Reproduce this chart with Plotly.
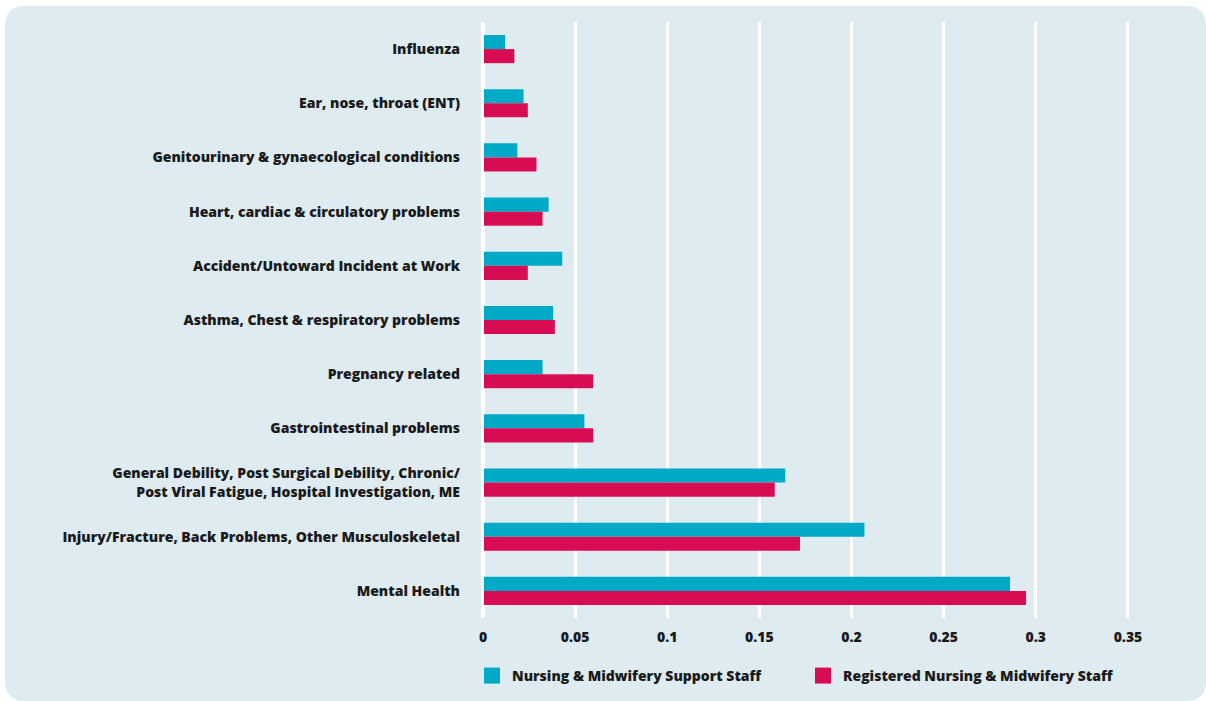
import plotly.graph_objects as go

categories = [
    "Influenza",
    "Ear, nose, throat (ENT)",
    "Genitourinary & gynaecological conditions",
    "Heart, cardiac & circulatory problems",
    "Accident/Untoward Incident at Work",
    "Asthma, Chest & respiratory problems",
    "Pregnancy related",
    "Gastrointestinal problems",
    "General Debility, Post Surgical Debility, Chronic/<br>Post Viral Fatigue, Hospital Investigation, ME",
    "Injury/Fracture, Back Problems, Other Musculoskeletal",
    "Mental Health",
]
support_staff = [0.012, 0.022, 0.0186, 0.0356, 0.043, 0.038, 0.0323, 0.055, 0.164, 0.207, 0.286]
registered_staff = [0.017, 0.0243, 0.029, 0.0323, 0.0243, 0.039, 0.0598, 0.0598, 0.1583, 0.172, 0.2947]
series_names = ["Nursing & Midwifery Support Staff", "Registered Nursing & Midwifery Staff"]
tick_vals = [0, 0.05, 0.1, 0.15, 0.2, 0.25, 0.3, 0.35]
tick_text = ["0", "0.05", "0.1", "0.15", "0.2", "0.25", "0.3", "0.35"]

TEAL = "#00a9c6"
RED = "#d80c52"
PANEL = "#deecf1"
FONT = "'Open Sans', Lato, sans-serif"
TXT = "#1a1a1a"

W, H = 1206, 701
L, R, T, B = 481, 76, 22, 83
pw, ph = W - L - R, H - T - B

def px(x):
    return (x - L) / pw

def py(y):
    return (H - B - y) / ph

colors = [TEAL, RED]
values = [support_staff, registered_staff]

fig = go.Figure()
for name, vals, col in zip(series_names, values, colors):
    fig.add_trace(go.Bar(y=categories, x=vals, orientation="h", name=name,
                         marker=dict(color=col, line=dict(width=0)), showlegend=False))
# legend entries with larger square swatches
for name, col in zip(series_names, colors):
    fig.add_trace(go.Scatter(x=[None], y=[None], mode="markers", name=name,
                             marker=dict(symbol="square", size=16, color=col),
                             showlegend=True))

# rounded background panel
x0, x1, y0, y1, r = 5, 1206, 6, 701, 20
path = (f"M {px(x0 + r)},{py(y0)} L {px(x1 - r)},{py(y0)} "
        f"Q {px(x1)},{py(y0)} {px(x1)},{py(y0 + r)} "
        f"L {px(x1)},{py(y1 - r)} Q {px(x1)},{py(y1)} {px(x1 - r)},{py(y1)} "
        f"L {px(x0 + r)},{py(y1)} Q {px(x0)},{py(y1)} {px(x0)},{py(y1 - r)} "
        f"L {px(x0)},{py(y0 + r)} Q {px(x0)},{py(y0)} {px(x0 + r)},{py(y0)} Z")
fig.add_shape(type="path", path=path, xref="paper", yref="paper",
              fillcolor=PANEL, line=dict(width=0), layer="below")
# white gridline at zero (left of bars)
fig.add_shape(type="line", x0=px(482.5), x1=px(482.5), y0=0, y1=1, xref="paper", yref="paper",
              line=dict(color="white", width=3), layer="above")

fig.update_layout(
    width=W, height=H,
    margin=dict(l=L, r=R, t=T, b=B, autoexpand=False),
    paper_bgcolor="white",
    plot_bgcolor="rgba(0,0,0,0)",
    barmode="group",
    bargap=0.48,
    bargroupgap=0,
    font=dict(family=FONT, size=14, color=TXT),
    xaxis=dict(range=[-0.0011, 0.3511], tickvals=tick_vals, ticktext=tick_text,
               showgrid=True, gridcolor="white", gridwidth=3,
               zeroline=True, zerolinecolor="white", zerolinewidth=3,
               showline=False, ticks="", ticklabelstandoff=9,
               tickfont=dict(family=FONT, size=14, color=TXT, weight=800)),
    yaxis=dict(autorange="reversed", showgrid=False, zeroline=False, showline=False,
               ticks="", ticklabelstandoff=20,
               tickfont=dict(family=FONT, size=14, color=TXT, weight=800)),
    legend=dict(orientation="h", x=px(472), y=py(660), xanchor="left", yanchor="top",
                entrywidth=286, entrywidthmode="pixels",
                itemsizing="trace",
                bgcolor="rgba(0,0,0,0)",
                font=dict(family=FONT, size=14, color=TXT, weight=800),
                traceorder="normal"),
)

fig.write_html("out.html")
